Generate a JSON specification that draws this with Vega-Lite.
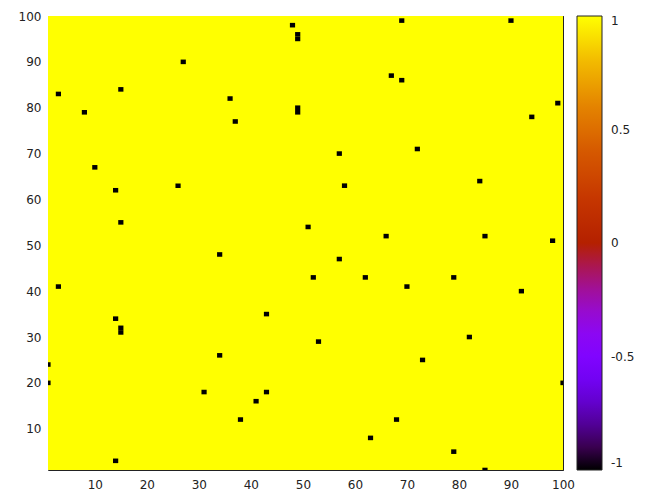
{
  "$schema": "https://vega.github.io/schema/vega-lite/v6.json",
  "autosize": {"type": "none"},
  "padding": {"left": 48, "top": 16, "right": 104, "bottom": 30},
  "width": 515,
  "height": 454,
  "background": "#ffffff",
  "config": {
    "view": {"stroke": "#222222", "strokeWidth": 1},
    "axis": {
      "domain": false,
      "grid": false,
      "ticks": true,
      "tickSize": -5,
      "tickColor": "#222222",
      "labelFont": "DejaVu Sans",
      "labelFontSize": 12,
      "labelColor": "#222222",
      "labelFlush": false,
      "title": null
    },
    "axisX": {"labelPadding": 14},
    "axisY": {"labelPadding": 12}
  },
  "resolve": {"axis": {"x": "independent", "y": "independent"}},
  "layer": [
    {
      "data": {"values": [{"v": 1}]},
      "mark": {"type": "rect", "clip": true},
      "encoding": {
        "x": {"datum": 0.5, "type": "quantitative", "scale": {"domain": [1, 100], "nice": false, "zero": false}, "axis": null},
        "x2": {"datum": 100.5},
        "y": {"datum": 0.5, "type": "quantitative", "scale": {"domain": [1, 100], "nice": false, "zero": false}, "axis": null},
        "y2": {"datum": 100.5},
        "color": {
          "field": "v",
          "type": "quantitative",
          "scale": {
            "type": "linear",
            "interpolate": "rgb",
            "domain": [-1, -0.9, -0.8, -0.7, -0.6, -0.5, -0.4, -0.3, -0.2, -0.1, 0, 0.2, 0.4, 0.6, 0.8, 1],
            "range": ["#000000", "#39004f", "#510096", "#6301ce", "#7202f3", "#8004ff", "#8c07f3", "#970bce", "#a11096", "#ab174f", "#b42000", "#c63700", "#d55800", "#e48300", "#f2ba00", "#ffff00"]
          },
          "legend": {
            "title": null,
            "orient": "right",
            "direction": "vertical",
            "offset": 13,
            "gradientLength": 454,
            "gradientThickness": 25,
            "gradientStrokeColor": "#222222",
            "gradientStrokeWidth": 1,
            "values": [-1, -0.5, 0, 0.5, 1],
            "labelExpr": "'' + datum.value",
            "labelOverlap": false,
            "labelBaseline": "middle",
            "labelFont": "DejaVu Sans",
            "labelFontSize": 12,
            "labelColor": "#222222",
            "labelOffset": 9
          }
        }
      }
    },
    {
      "data": {
        "values": [
          {"x": 27, "y": 90, "v": -1}, {"x": 3, "y": 83, "v": -1}, {"x": 15, "y": 84, "v": -1},
          {"x": 8, "y": 79, "v": -1}, {"x": 10, "y": 67, "v": -1}, {"x": 14, "y": 62, "v": -1},
          {"x": 26, "y": 63, "v": -1}, {"x": 15, "y": 55, "v": -1}, {"x": 48, "y": 98, "v": -1},
          {"x": 49, "y": 95, "v": -1}, {"x": 49, "y": 96, "v": -1}, {"x": 67, "y": 87, "v": -1},
          {"x": 36, "y": 82, "v": -1}, {"x": 49, "y": 79, "v": -1}, {"x": 49, "y": 80, "v": -1},
          {"x": 37, "y": 77, "v": -1}, {"x": 57, "y": 70, "v": -1}, {"x": 58, "y": 63, "v": -1},
          {"x": 51, "y": 54, "v": -1}, {"x": 66, "y": 52, "v": -1}, {"x": 69, "y": 99, "v": -1},
          {"x": 90, "y": 99, "v": -1}, {"x": 69, "y": 86, "v": -1}, {"x": 99, "y": 81, "v": -1},
          {"x": 94, "y": 78, "v": -1}, {"x": 72, "y": 71, "v": -1}, {"x": 84, "y": 64, "v": -1},
          {"x": 85, "y": 52, "v": -1}, {"x": 98, "y": 51, "v": -1}, {"x": 34, "y": 48, "v": -1},
          {"x": 3, "y": 41, "v": -1}, {"x": 14, "y": 34, "v": -1}, {"x": 15, "y": 31, "v": -1},
          {"x": 15, "y": 32, "v": -1}, {"x": 34, "y": 26, "v": -1}, {"x": 1, "y": 24, "v": -1},
          {"x": 1, "y": 20, "v": -1}, {"x": 31, "y": 18, "v": -1}, {"x": 14, "y": 3, "v": -1},
          {"x": 57, "y": 47, "v": -1}, {"x": 52, "y": 43, "v": -1}, {"x": 62, "y": 43, "v": -1},
          {"x": 43, "y": 35, "v": -1}, {"x": 53, "y": 29, "v": -1}, {"x": 43, "y": 18, "v": -1},
          {"x": 41, "y": 16, "v": -1}, {"x": 38, "y": 12, "v": -1}, {"x": 68, "y": 12, "v": -1},
          {"x": 63, "y": 8, "v": -1}, {"x": 79, "y": 43, "v": -1}, {"x": 70, "y": 41, "v": -1},
          {"x": 92, "y": 40, "v": -1}, {"x": 82, "y": 30, "v": -1}, {"x": 73, "y": 25, "v": -1},
          {"x": 100, "y": 20, "v": -1}, {"x": 79, "y": 5, "v": -1}, {"x": 85, "y": 1, "v": -1}
        ]
      },
      "mark": {"type": "rect", "clip": true, "width": 5.2, "height": 4.59},
      "encoding": {
        "x": {"field": "x", "type": "quantitative", "scale": {"domain": [1, 100], "nice": false, "zero": false}, "axis": {"orient": "bottom", "values": [10, 20, 30, 40, 50, 60, 70, 80, 90, 100]}},
        "y": {"field": "y", "type": "quantitative", "scale": {"domain": [1, 100], "nice": false, "zero": false}, "axis": {"orient": "left", "values": [10, 20, 30, 40, 50, 60, 70, 80, 90, 100]}},
        "color": {
          "field": "v",
          "type": "quantitative",
          "scale": {
            "type": "linear",
            "interpolate": "rgb",
            "domain": [-1, -0.9, -0.8, -0.7, -0.6, -0.5, -0.4, -0.3, -0.2, -0.1, 0, 0.2, 0.4, 0.6, 0.8, 1],
            "range": ["#000000", "#39004f", "#510096", "#6301ce", "#7202f3", "#8004ff", "#8c07f3", "#970bce", "#a11096", "#ab174f", "#b42000", "#c63700", "#d55800", "#e48300", "#f2ba00", "#ffff00"]
          }
        }
      }
    },
    {
      "data": {"values": []},
      "mark": {"type": "rect"},
      "encoding": {
        "x": {"field": "x", "type": "quantitative", "scale": {"domain": [1, 100], "nice": false, "zero": false}, "axis": {"orient": "top", "labels": false, "values": [10, 20, 30, 40, 50, 60, 70, 80, 90, 100]}},
        "y": {"field": "y", "type": "quantitative", "scale": {"domain": [1, 100], "nice": false, "zero": false}, "axis": {"orient": "right", "labels": false, "values": [10, 20, 30, 40, 50, 60, 70, 80, 90, 100]}}
      }
    }
  ]
}
